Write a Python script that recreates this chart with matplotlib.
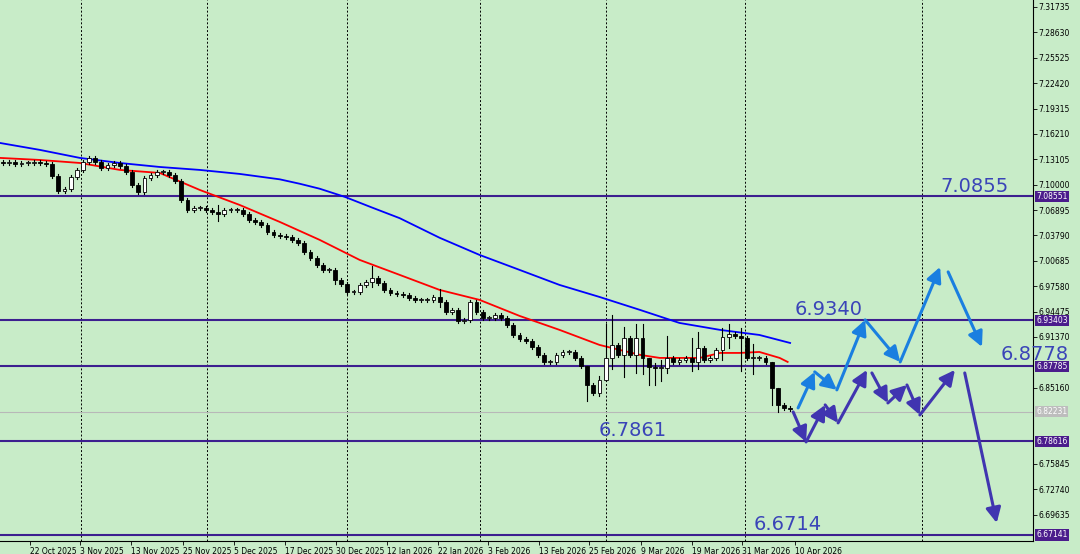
import matplotlib
matplotlib.use("Agg")
import matplotlib.pyplot as plt
from matplotlib.patches import Rectangle

closes = [7.1265,7.1278,7.1253,7.1265,7.1265,7.1278,7.1265,7.1253,7.1106,7.0923,
          7.0947,7.1094,7.1180,7.1278,7.1327,7.1278,7.1204,7.1241,7.1265,7.1229,
          7.1155,7.0996,7.0911,7.1082,7.1119,7.1155,7.1155,7.1119,7.1045,7.0813,
          7.0690,7.0715,7.0715,7.0690,7.0666,7.0641,7.0690,7.0690,7.0690,7.0641,
          7.0568,7.0544,7.0507,7.0421,7.0385,7.0373,7.0360,7.0324,7.0287,7.0177,
          7.0103,7.0018,6.9957,6.9957,6.9834,6.9785,6.9688,6.9688,6.9773,6.9810,
          6.9859,6.9798,6.9712,6.9675,6.9663,6.9651,6.9614,6.9590,6.9590,6.9590,
          6.9626,6.9565,6.9443,6.9467,6.9333,6.9345,6.9565,6.9443,6.9369,6.9369,
          6.9406,6.9369,6.9284,6.9161,6.9112,6.9088,6.9015,6.8917,6.8831,6.8831,
          6.8917,6.8953,6.8953,6.8880,6.8782,6.8550,6.8452,6.8611,6.8880,6.9039,
          6.8917,6.9125,6.8917,6.9125,6.8880,6.8770,6.8758,6.8758,6.8880,6.8831,
          6.8856,6.8880,6.8831,6.9002,6.8856,6.8880,6.8978,6.9137,6.9174,6.9149,
          6.9125,6.8880,6.8880,6.8880,6.8831,6.8513,6.8305,6.8268,6.8256]
first_open = 7.1278
long_wicks = {95: (6.870, 6.835), 97: (6.866, 6.842), 98: (6.930, 6.860), 99: (6.940, 6.875),
              101: (6.926, 6.865), 103: (6.930, 6.870), 104: (6.930, 6.868),
              105: (6.880, 6.855), 106: (6.882, 6.855), 107: (6.885, 6.860),
              108: (6.915, 6.870), 112: (6.912, 6.872), 113: (6.920, 6.874),
              117: (6.925, 6.885), 118: (6.930, 6.900), 120: (6.925, 6.872),
              122: (6.905, 6.868), 125: (6.880, 6.830), 126: (6.840, 6.822),
              54: (6.998, 6.978), 60: (7.000, 6.975), 71: (6.972, 6.950), 35: (7.075, 7.055)}

red_x = [-0.5,6,12.5,19,25.5,32,38.5,45,51.5,58,64.5,71,77.5,84,90.5,97,100.3,103.6,106.8,113.3,116.6,119.8,123,126.3,127.6]
red_y = [7.1327,7.1302,7.1265,7.1180,7.1143,7.0935,7.0751,7.0544,7.0324,7.0079,6.9896,6.9712,6.9590,6.9394,6.9223,6.9039,6.8978,6.8917,6.8880,6.8880,6.8941,6.8941,6.8953,6.8880,6.8831]
blue_x = [-0.5,6,12.5,19,25.5,32,38.5,45,48.3,51.5,55.6,60,64.5,71,77.5,84,90.5,97,103.6,110,116.6,123,128]
blue_y = [7.1510,7.1425,7.1327,7.1265,7.1216,7.1180,7.1131,7.1065,7.1010,7.0950,7.0850,7.0720,7.0590,7.0350,7.0140,6.9957,6.9773,6.9626,6.9467,6.9308,6.9223,6.9161,6.9063]

levels = [7.08551, 6.93403, 6.87785, 6.78616, 6.67141]
level_texts = ["7.0855", "6.9340", "6.8778", "6.7861", "6.6714"]
level_text_pos = [(152.5, 7.0975), (128.8, 6.9470), (162.2, 6.8920), (96.8, 6.7990), (122, 6.6840)]
current_price = 6.82231
axis_ticks = [7.31735,7.28630,7.25525,7.22420,7.19315,7.16210,7.13105,7.10000,7.06895,
              7.03790,7.00685,6.97580,6.94475,6.91370,6.85160,6.75845,6.72740,6.69635]
date_pos = [-3.9,4.4,12.5,20.8,29.3,37.6,45.9,54.1,62.4,70.7,78.9,87.2,95.3,103.7,112.0,120.2,128.8]
date_labels = ["10 Oct 2025","22 Oct 2025","3 Nov 2025","13 Nov 2025","25 Nov 2025","5 Dec 2025","17 Dec 2025",
               "30 Dec 2025","12 Jan 2026","22 Jan 2026","3 Feb 2026","13 Feb 2026","25 Feb 2026",
               "9 Mar 2026","19 Mar 2026","31 Mar 2026","10 Apr 2026"]
vlines = [12.7, 33.2, 55.9, 77.6, 98.0, 120.7, 149.4]

light_path = [(129.3,6.8268),(132.0,6.8709),(135.6,6.8489),(140.2,6.9345),(145.9,6.8831),(152.4,6.9993)]
light_single = [((153.7,6.9932),(159.2,6.9015))]
dark_paths = [[(128.5,6.8219),(130.6,6.7852),(133.7,6.8305),(135.8,6.8085),(140.5,6.8733)],
              [(141.3,6.8696),(143.9,6.8329),(147.0,6.8549),(149.1,6.8182),(154.8,6.8733)],
              [(156.4,6.8696),(161.6,6.6861)]]

bg = "#c8ecc8"
fig = plt.figure(figsize=(10.8, 5.54), dpi=100, facecolor=bg)
ax = fig.add_axes([0, 13/554, 1033/1080, 541/554], facecolor=bg)

for v in vlines:
    ax.axvline(v, color="black", ls=(0, (2, 2)), lw=0.7, zorder=1)
for lv in levels:
    ax.axhline(lv, color="#3d1f8f", lw=1.5, zorder=2)
ax.axhline(current_price, color="#b8b8b8", lw=0.8, zorder=1)

ax.plot(red_x, red_y, color="#ff0000", lw=1.3, zorder=3)
ax.plot(blue_x, blue_y, color="#0000ff", lw=1.3, zorder=3)

prev = first_open
w = 0.62
for i, c in enumerate(closes):
    o = prev
    hi, lo = long_wicks.get(i, (max(o, c) + 0.002, min(o, c) - 0.002))
    hi = max(hi, o, c); lo = min(lo, o, c)
    ax.plot([i, i], [lo, hi], color="black", lw=0.8, zorder=4)
    body = max(abs(c - o), 0.0006)
    up = c >= o
    ax.add_patch(Rectangle((i - w/2, min(o, c)), w, body, facecolor="white" if up else "black",
                           edgecolor="black", lw=0.6, zorder=5))
    prev = c

def arrow(p0, p1, col):
    ax.annotate("", xy=p1, xytext=p0,
                arrowprops=dict(arrowstyle="-|>,head_length=0.9,head_width=0.45", color=col, lw=2.2,
                                shrinkA=0, shrinkB=0), zorder=6)

lc = "#1a7fe0"; dc = "#4035b0"
for a, b in zip(light_path[:-1], light_path[1:]):
    arrow(a, b, lc)
for a, b in light_single:
    arrow(a, b, lc)
for path in dark_paths:
    for a, b in zip(path[:-1], path[1:]):
        arrow(a, b, dc)

for t, (x, y) in zip(level_texts, level_text_pos):
    ax.text(x, y, t, fontsize=14, color="#3a44b8", ha="left", va="center", zorder=7)

ax.yaxis.tick_right()
ax.set_yticks(axis_ticks)
ax.set_yticklabels([f"{t:.5f}" for t in axis_ticks], fontsize=5.5)
ax.tick_params(axis="y", length=3, pad=1, width=0.6)
ax.set_xticks(date_pos)
ax.set_xticklabels(date_labels, fontsize=5.5, ha="left")
ax.tick_params(axis="x", length=3, pad=1, width=0.6)
ax.set_xlim(-0.49, 167.5)
ax.set_ylim(6.6640, 7.3259)
for s in ["top", "left"]:
    ax.spines[s].set_visible(False)
ax.spines["right"].set_linewidth(0.8)
ax.spines["bottom"].set_linewidth(0.8)

for lv in levels:
    ax.text(1.003, lv, f"{lv:.5f}", transform=ax.get_yaxis_transform(), fontsize=5.5, color="white",
            va="center", ha="left", bbox=dict(boxstyle="square,pad=0.15", fc="#4b1c8c", ec="none"), clip_on=False)
ax.text(1.003, current_price, f"{current_price:.5f}", transform=ax.get_yaxis_transform(), fontsize=5.5,
        color="white", va="center", ha="left", bbox=dict(boxstyle="square,pad=0.15", fc="#bdbdbd", ec="none"), clip_on=False)

fig.savefig("out.png", dpi=100, facecolor=bg)
